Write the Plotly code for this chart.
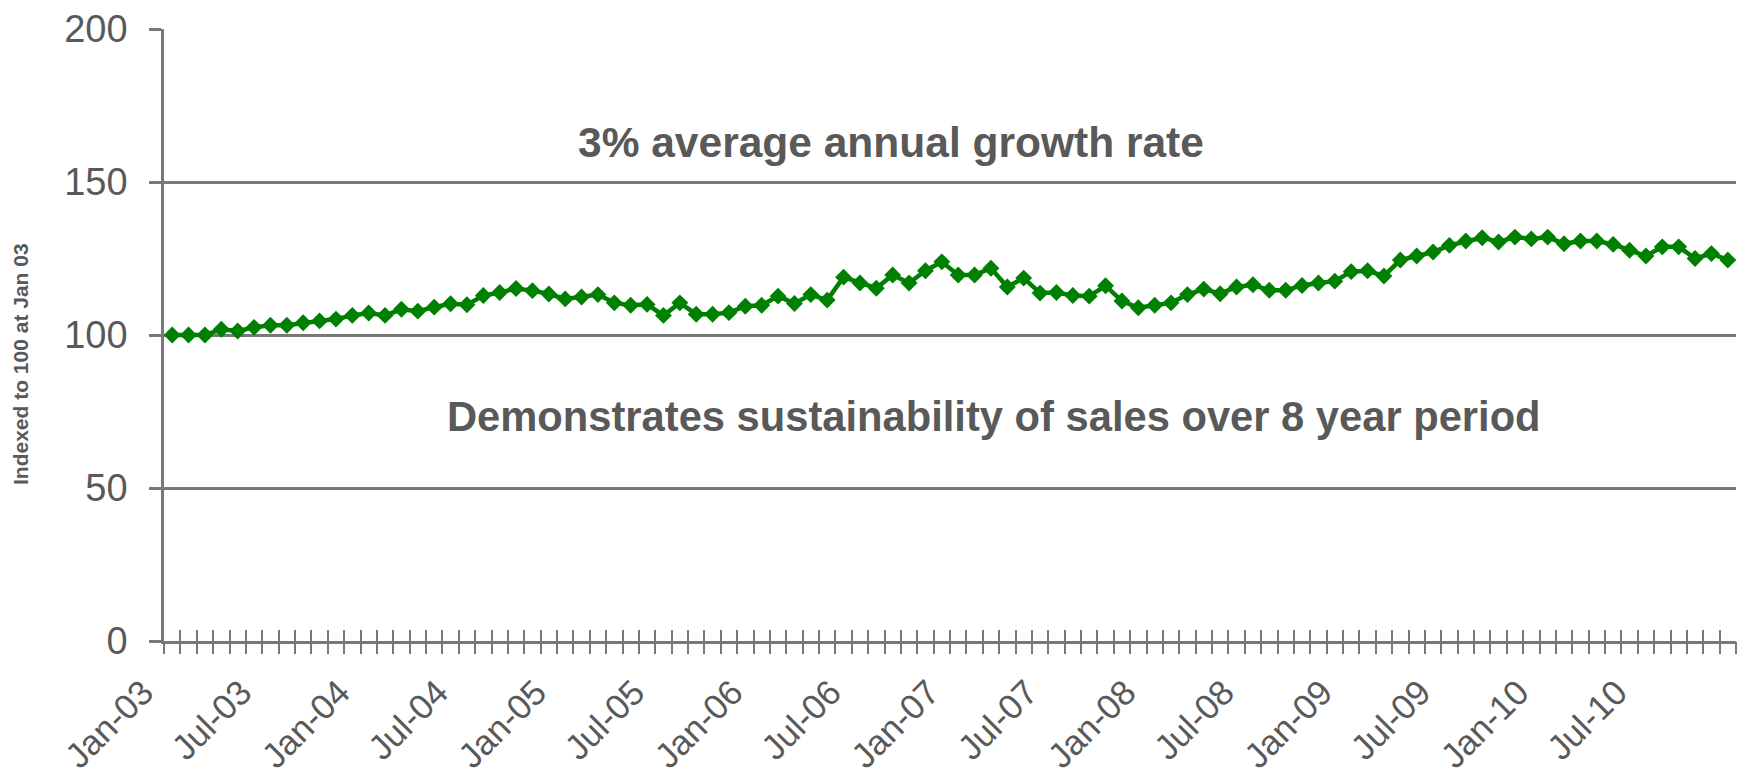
import pandas as pd
import plotly.graph_objects as go

# ---- data ----
months = list(pd.date_range("2003-01-01", periods=96, freq="MS").strftime("%b-%y"))
index_values = [
    100.0, 100.0, 100.0, 101.9, 101.3, 102.5, 103.2, 103.2, 104.0, 104.6, 105.2, 106.4,   # 2003
    107.2, 106.4, 108.4, 107.8, 109.1, 110.2, 109.9, 112.9, 113.9, 115.2, 114.5, 113.4,   # 2004
    111.8, 112.4, 113.2, 110.5, 109.7, 110.0, 106.4, 110.5, 106.8, 106.8, 107.3, 109.4,   # 2005
    109.7, 112.7, 110.3, 113.2, 111.4, 118.9, 117.0, 115.3, 119.6, 117.0, 121.0, 123.9,   # 2006
    119.6, 119.6, 121.8, 115.7, 118.6, 113.7, 113.9, 112.9, 112.7, 116.1, 111.1, 108.9,   # 2007
    109.7, 110.5, 113.2, 115.0, 113.5, 115.7, 116.4, 114.6, 114.6, 116.2, 117.0, 117.6,   # 2008
    120.7, 121.0, 119.3, 124.5, 125.8, 127.1, 129.3, 130.7, 131.8, 130.4, 132.0, 131.4,   # 2009
    132.0, 129.8, 130.7, 130.7, 129.6, 127.7, 125.8, 128.8, 128.8, 125.0, 126.6, 124.5,   # 2010
]
tick_labels = months[::6]
y_ticks = [0, 50, 100, 150, 200]
y_title = "Indexed to 100 at Jan 03"
note_top = "3% average annual growth rate"
note_bottom = "Demonstrates sustainability of sales over 8 year period"

# ---- style ----
GREEN = "#008000"
AXIS = "#787878"
TEXT = "#595959"
FONT = "Liberation Sans, Arial, sans-serif"
n = len(months)

fig = go.Figure()
fig.add_trace(go.Scatter(
    x=months, y=index_values, mode="lines+markers",
    line=dict(color=GREEN, width=4.5),
    marker=dict(symbol="diamond", size=13, color=GREEN),
    hoverinfo="x+y", showlegend=False,
))
# empty helper traces so the overlaid tick-only axes are drawn
for ax in ("x2", "x3"):
    fig.add_trace(go.Scatter(x=[], y=[], xaxis=ax, yaxis="y",
                             showlegend=False, hoverinfo="skip"))

tick_common = dict(
    overlaying="x", anchor="y", type="linear", range=[-0.5, n - 0.5],
    tickmode="linear", tick0=-0.5, dtick=1, tickcolor=AXIS, tickwidth=2,
    showticklabels=False, showgrid=False, showline=False, zeroline=False,
)

fig.update_layout(
    width=1744, height=783,
    margin=dict(l=164, r=8, t=24, b=136),
    paper_bgcolor="white", plot_bgcolor="white",
    font=dict(family=FONT, color=TEXT),
    xaxis=dict(
        type="category", categoryorder="array", categoryarray=months,
        range=[-0.5, n - 0.5],
        tickmode="array", tickvals=tick_labels, ticktext=tick_labels,
        tickangle=-45, ticks="", showgrid=False, zeroline=False,
        showline=True, linecolor=AXIS, linewidth=2.5,
        ticklabelshift=-29, ticklabelstandoff=14,
        tickfont=dict(family=FONT, size=35, color=TEXT),
    ),
    xaxis2=dict(ticks="outside", ticklen=12, **tick_common),
    xaxis3=dict(ticks="inside", ticklen=11, **tick_common),
    yaxis=dict(
        range=[0, 200], tickmode="array", tickvals=y_ticks,
        showgrid=True, gridcolor=AXIS, gridwidth=2.5,
        showline=True, linecolor=AXIS, linewidth=2.5, zeroline=False,
        ticks="outside", ticklen=12, tickcolor=AXIS, tickwidth=2.5,
        ticklabelstandoff=14,
        tickfont=dict(family=FONT, size=38, color=TEXT),
    ),
    annotations=[
        dict(text=f"<b>{note_top}</b>", xref="paper", yref="paper",
             x=0.4625, y=0.815, xanchor="center", yanchor="middle",
             showarrow=False, font=dict(family=FONT, size=42.5, color=TEXT)),
        dict(text=f"<b>{note_bottom}</b>", xref="paper", yref="paper",
             x=0.528, y=0.367, xanchor="center", yanchor="middle",
             showarrow=False, font=dict(family=FONT, size=41.7, color=TEXT)),
        dict(text=f"<b>{y_title}</b>", xref="paper", yref="paper",
             x=-0.0912, y=0.452, xanchor="center", yanchor="middle",
             textangle=-90, showarrow=False,
             font=dict(family=FONT, size=21, color=TEXT)),
    ],
)

fig.write_html(
    "out.html",
    config={"displayModeBar": False},
    post_script="document.body.style.margin='0';document.body.style.overflow='hidden';",
)
